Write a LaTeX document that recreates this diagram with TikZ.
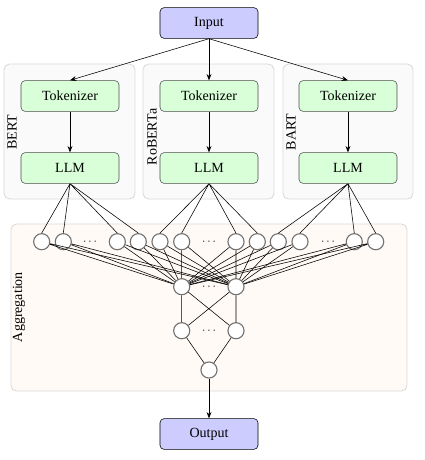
\documentclass[tikz,border=0pt]{standalone}
\usepackage{fontspec}
\setmainfont{Liberation Serif}
\usetikzlibrary{arrows.meta}
\tikzset{
  inout/.style={minimum width=70pt,minimum height=22pt,draw,rounded corners=3pt,fill=blue!20},
  block/.style={minimum width=70pt,minimum height=22pt,draw=black!70,rounded corners=3pt,fill=green!15},
  neuron/.style={minimum size=11.5pt,inner sep=0pt,circle,draw=black!55,line width=0.8pt,fill=white},
  group/.style={draw=black!15,line width=0.6pt,fill=black!2,rounded corners=4pt},
  aggbox/.style={draw=black!15,line width=0.6pt,fill=orange!4,rounded corners=4pt},
  arr/.style={-{Stealth[length=4.5pt,width=3.5pt]}},
}
\begin{document}
\begin{tikzpicture}[x=0.714pt,y=-0.714pt]
\useasboundingbox (0,0) rectangle (425,460);
\draw[group] (4,64) rectangle (135,199);
\draw[group] (143,64) rectangle (274,199);
\draw[group] (283,64) rectangle (413,199);
\draw[aggbox] (11,224) rectangle (407,391);
\draw (12,132) node[rotate=90](bertlabel) {BERT};
\draw (152,137) node[rotate=90](robertalabel) {RoBERTa};
\draw (291,132) node[rotate=90](bartlabel) {BART};
\draw (19,307) node[rotate=90](agglabel) {Aggregation};

\draw (209,23) node[inout](input) {Input};
\draw (70,96) node[block](tokbert) {Tokenizer};
\draw (209,96) node[block](tokroberta) {Tokenizer};
\draw (348,96) node[block](tokbart) {Tokenizer};
\draw (70,168) node[block](llmbert) {LLM};
\draw (209,168) node[block](llmroberta) {LLM};
\draw (348,168) node[block](llmbart) {LLM};
\draw (209,434) node[inout](output) {Output};

\draw (41.7,241.7) node[neuron](c1) {};
\draw (63.3,241.7) node[neuron](c2) {};
\draw (90,241.7) node(d1) {\footnotesize$\cdots$};
\draw (117.3,241.7) node[neuron](c3) {};
\draw (138.3,241.7) node[neuron](c4) {};
\draw (160,241.7) node[neuron](c5) {};
\draw (181.7,241.7) node[neuron](c6) {};
\draw (209,241.7) node(d2) {\footnotesize$\cdots$};
\draw (236,241.7) node[neuron](c7) {};
\draw (257.3,241.7) node[neuron](c8) {};
\draw (278.3,241.7) node[neuron](c9) {};
\draw (300,241.7) node[neuron](c10) {};
\draw (328,241.7) node(d3) {\footnotesize$\cdots$};
\draw (354.3,241.7) node[neuron](c11) {};
\draw (375.7,241.7) node[neuron](c12) {};
\draw (181.7,286.7) node[neuron](h1) {};
\draw (209,286.7) node(d4) {\footnotesize$\cdots$};
\draw (236,286.7) node[neuron](h2) {};
\draw (181.7,330.7) node[neuron](g1) {};
\draw (209,330.7) node(d5) {\footnotesize$\cdots$};
\draw (236,330.7) node[neuron](g2) {};
\draw (209,370) node[neuron](o) {};

\draw[arr] (input.south) -- (tokbert.north);
\draw[arr] (input.south) -- (tokroberta.north);
\draw[arr] (input.south) -- (tokbart.north);
\draw[arr] (tokbert) -- (llmbert);
\draw[arr] (tokroberta) -- (llmroberta);
\draw[arr] (tokbart) -- (llmbart);

\draw (llmbert.south) -- (c1.north) (llmbert.south) -- (c2.north) (llmbert.south) -- (c3.north) (llmbert.south) -- (c4.north);
\draw (llmroberta.south) -- (c5.north) (llmroberta.south) -- (c6.north) (llmroberta.south) -- (c7.north) (llmroberta.south) -- (c8.north);
\draw (llmbart.south) -- (c9.north) (llmbart.south) -- (c10.north) (llmbart.south) -- (c11.north) (llmbart.south) -- (c12.north);

\draw (c1) -- (h1) (c1) -- (h2);
\draw (c2) -- (h1) (c2) -- (h2);
\draw (c3) -- (h1) (c3) -- (h2);
\draw (c4) -- (h1) (c4) -- (h2);
\draw (c5) -- (h1) (c5) -- (h2);
\draw (c6) -- (h1) (c6) -- (h2);
\draw (c7) -- (h1) (c7) -- (h2);
\draw (c8) -- (h1) (c8) -- (h2);
\draw (c9) -- (h1) (c9) -- (h2);
\draw (c10) -- (h1) (c10) -- (h2);
\draw (c11) -- (h1) (c11) -- (h2);
\draw (c12) -- (h1) (c12) -- (h2);
\draw (h1) -- (g1) (h1) -- (g2) (h2) -- (g1) (h2) -- (g2);
\draw (g1) -- (o) (g2) -- (o);
\draw[arr] (o) -- (output);
\end{tikzpicture}
\end{document}
